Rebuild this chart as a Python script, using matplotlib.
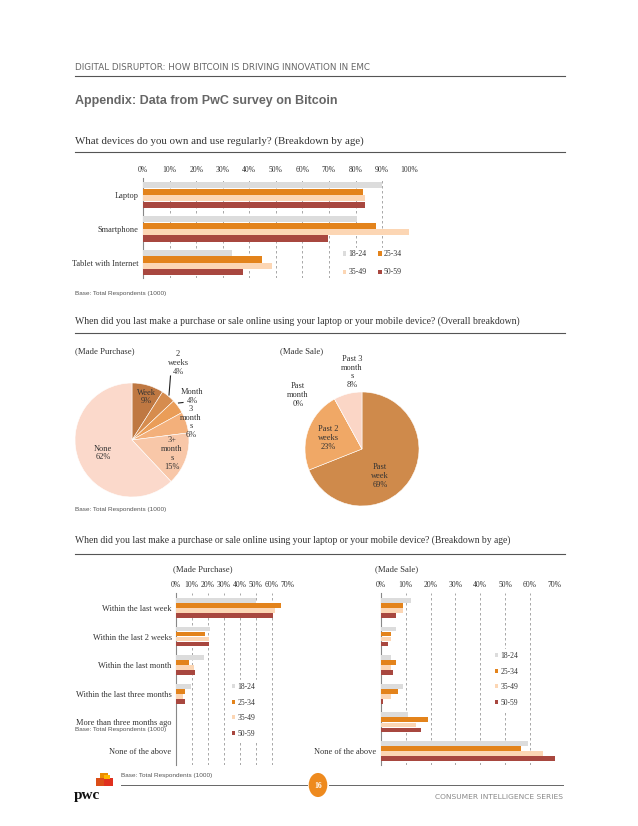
import numpy as np
import matplotlib
matplotlib.use('Agg')
import matplotlib.pyplot as plt
from matplotlib.patches import Rectangle, Circle
from matplotlib.lines import Line2D

# ---------------- data ----------------
age_groups = ['18-24', '25-34', '35-49', '50-59']
age_colors = ['#DCDCDC', '#E3831B', '#FCD6B4', '#A8473F']

devices = ['Laptop', 'Smartphone', 'Tablet with Internet']
dev_18_24 = [90.0, 80.5, 33.6]
dev_25_34 = [82.7, 87.7, 44.9]
dev_35_49 = [83.5, 100.0, 48.6]
dev_50_59 = [83.7, 69.7, 37.7]
dev_ticks = [0, 10, 20, 30, 40, 50, 60, 70, 80, 90, 100]

purchase_labels = ['Week\n9%', '2\nweeks\n4%', 'Month\n4%', '3\nmonth\ns\n6%', '3+\nmonth\ns\n15%', 'None\n62%']
purchase_share = [9, 4, 4, 6, 15, 62]
purchase_colors = ['#BF7842', '#D68C4E', '#EA9D58', '#F3B07B', '#F8C7A8', '#FBD9CB']

sale_labels = ['Past\nweek\n69%', 'Past 2\nweeks\n23%', 'Past\nmonth\n0%', 'Past 3\nmonth\ns\n8%']
sale_share = [69, 23, 0, 8]
sale_colors = ['#CF8A4B', '#F0A866', '#F5BE90', '#FBD6C6']

timing = ['Within the last week', 'Within the last 2 weeks', 'Within the last month',
          'Within the last three months', 'More than three months ago', 'None of the above']
buy_18_24 = [50.0, 21.7, 17.9, 9.4, 0, 0]
buy_25_34 = [65.8, 18.5, 8.3, 5.6, 0, 0]
buy_35_49 = [61.8, 20.6, 11.5, 4.4, 0, 0]
buy_50_59 = [61.0, 20.8, 11.9, 5.6, 0, 0]
sell_18_24 = [12.0, 6.2, 4.1, 9.1, 11.0, 59.0]
sell_25_34 = [9.1, 4.1, 6.2, 7.1, 19.1, 56.2]
sell_35_49 = [9.1, 4.1, 4.1, 4.1, 14.3, 65.1]
sell_50_59 = [6.2, 3.1, 5.1, 1.1, 16.1, 70.0]
time_ticks = [0, 10, 20, 30, 40, 50, 60, 70]

# ---------------- figure helpers ----------------
W, H = 638, 826
fig = plt.figure(figsize=(W / 100, H / 100), dpi=100)
fig.patch.set_facecolor('white')

SERIF = ['Liberation Serif', 'DejaVu Serif']
SANS = ['Liberation Sans', 'DejaVu Sans']
WIDE = ['DejaVu Sans']
TXT = '#333333'


def fx(x):
    return x / W


def fy(y):
    return 1 - y / H


def text(x, y, s, **kw):
    kw.setdefault('va', 'center')
    return fig.text(fx(x), fy(y), s, **kw)


def hline(x0, x1, y, color='#555555', lw=0.8):
    fig.add_artist(Line2D([fx(x0), fx(x1)], [fy(y), fy(y)], transform=fig.transFigure,
                          color=color, lw=lw))


def add_ax(l, t, r, b):
    return fig.add_axes([fx(l), fy(b), (r - l) / W, (b - t) / H])


def bar_chart(ax, cats, series, ticks, step, bh, ylim, fs, show_labels=True):
    y = np.arange(len(cats))
    handles = []
    for i, (vals, c) in enumerate(zip(series, age_colors)):
        h = ax.barh(y + (i - 1.5) * step, vals, height=bh, color=c, label=age_groups[i],
                    zorder=3, linewidth=0)
        handles.append(h)
    ax.set_xlim(ticks[0], ticks[-1])
    ax.set_ylim(*ylim)
    ax.xaxis.tick_top()
    ax.set_xticks(ticks)
    ax.set_xticklabels([f'{t}%' for t in ticks], family=SERIF, fontsize=fs, color=TXT)
    ax.tick_params(axis='x', length=0, pad=3)
    ax.set_yticks(y)
    ax.set_yticklabels(cats if show_labels else [''] * len(cats), family=SERIF,
                       fontsize=fs + 0.5, color=TXT)
    ax.tick_params(axis='y', length=0, pad=3)
    ax.grid(axis='x', linestyle=(0, (3, 3)), color='#999999', lw=0.6, zorder=0)
    ax.set_axisbelow(True)
    for s in ['top', 'right', 'bottom']:
        ax.spines[s].set_visible(False)
    ax.spines['left'].set_color('#888888')
    ax.spines['left'].set_linewidth(0.8)
    return handles


# ---------------- header ----------------
text(75, 67, 'DIGITAL DISRUPTOR: HOW BITCOIN IS DRIVING INNOVATION IN EMC',
     family=WIDE, fontsize=6.3, color='#666666')
hline(75, 565, 76)
text(75, 101, 'Appendix: Data from PwC survey on Bitcoin', family=SANS, fontsize=9.0,
     fontweight='bold', color='#666666')

# ---------------- chart 1 ----------------
text(75, 141, 'What devices do you own and use regularly? (Breakdown by age)',
     family=SERIF, fontsize=7.8, color=TXT)
hline(75, 565, 152)

ax1 = add_ax(143, 178, 408.7, 278)
h1 = bar_chart(ax1, devices, [dev_18_24, dev_25_34, dev_35_49, dev_50_59], dev_ticks,
               step=0.19, bh=0.18, ylim=(2.45, -0.5), fs=5.5)
leg1 = ax1.legend([h1[0], h1[2], h1[1], h1[3]],
                  [age_groups[0], age_groups[2], age_groups[1], age_groups[3]],
                  ncol=2, loc='lower right', bbox_to_anchor=(1.0, -0.05), frameon=True,
                  fancybox=False, edgecolor='white', facecolor='white', framealpha=1,
                  handlelength=0.45, handleheight=0.45, handletextpad=0.3,
                  columnspacing=1.5, labelspacing=1.3, borderpad=0.35,
                  prop={'family': SERIF, 'size': 5.6})
for t in leg1.get_texts():
    t.set_color(TXT)

text(75, 294, 'Base: Total Respondents (1000)', family=SANS, fontsize=4.6, color='#555555')

# ---------------- pies ----------------
text(75, 321, 'When did you last make a purchase or sale online using your laptop or your '
     'mobile device? (Overall breakdown)', family=SERIF, fontsize=7.05, color=TXT)
hline(75, 565, 333)

text(75, 351, '(Made Purchase)', family=SERIF, fontsize=6.3, color=TXT)
text(280, 351, '(Made Sale)', family=SERIF, fontsize=6.3, color=TXT)

axp1 = add_ax(75, 383, 189, 497)
axp1.pie(purchase_share, colors=purchase_colors, startangle=90, counterclock=False,
         wedgeprops={'edgecolor': 'white', 'linewidth': 0.4})
axp1.set_xlim(-1, 1)
axp1.set_ylim(-1, 1)
axp1.set_aspect('equal')
axp1.axis('off')

pl_pos = [(146, 397), (178, 363), (192, 396.5), (191, 422), (172, 453.5), (103, 453)]
for lab, (x, y) in zip(purchase_labels, pl_pos):
    text(x, y, lab, family=SERIF, fontsize=6.0, color=TXT, ha='center', linespacing=1.15)
fig.add_artist(Line2D([fx(170.5), fx(169)], [fy(376), fy(395)], transform=fig.transFigure,
                      color='#222222', lw=0.8))
fig.add_artist(Line2D([fx(178.5), fx(183)], [fy(403), fy(402.5)], transform=fig.transFigure,
                      color='#222222', lw=0.8))

axp2 = add_ax(305, 392, 419, 506)
axp2.pie(sale_share, colors=sale_colors, startangle=90, counterclock=False,
         wedgeprops={'edgecolor': 'white', 'linewidth': 0.4})
axp2.set_xlim(-1, 1)
axp2.set_ylim(-1, 1)
axp2.set_aspect('equal')
axp2.axis('off')

sl_pos = [(380, 476), (328, 438), (298, 395), (352, 372)]
for lab, (x, y) in zip(sale_labels, sl_pos):
    text(x, y, lab, family=SERIF, fontsize=6.0, color=TXT, ha='center', linespacing=1.15)

text(75, 509, 'Base: Total Respondents (1000)', family=SANS, fontsize=4.6, color='#555555')

# ---------------- charts 3 & 4 ----------------
text(75, 540, 'When did you last make a purchase or sale online using your laptop or your '
     'mobile device? (Breakdown by age)', family=SERIF, fontsize=6.95, color=TXT)
hline(75, 565, 554)

text(203, 569, '(Made Purchase)', family=SERIF, fontsize=6.3, color=TXT, ha='center')
text(397, 569, '(Made Sale)', family=SERIF, fontsize=6.3, color=TXT, ha='center')

ax3 = add_ax(175.7, 593, 287.7, 765)
h3 = bar_chart(ax3, timing, [buy_18_24, buy_25_34, buy_35_49, buy_50_59], time_ticks,
               step=0.175, bh=0.165, ylim=(5.49, -0.52), fs=5.5)
leg3 = ax3.legend(h3, age_groups, loc='upper left', bbox_to_anchor=(fx(225), fy(676)),
                  bbox_transform=fig.transFigure, frameon=True, fancybox=False,
                  edgecolor='white', facecolor='white', framealpha=1,
                  handlelength=0.45, handleheight=0.45, handletextpad=0.3,
                  labelspacing=1.0, borderpad=0.4, prop={'family': SERIF, 'size': 5.5})
for t in leg3.get_texts():
    t.set_color(TXT)

ax4 = add_ax(380.7, 593, 555, 765)
h4 = bar_chart(ax4, timing, [sell_18_24, sell_25_34, sell_35_49, sell_50_59], time_ticks,
               step=0.175, bh=0.165, ylim=(5.49, -0.52), fs=5.5, show_labels=False)
ax4.set_yticklabels(['', '', '', '', '', timing[-1]], family=SERIF, fontsize=6.0, color=TXT)
leg4 = ax4.legend(h4, age_groups, loc='upper left', bbox_to_anchor=(fx(488), fy(645)),
                  bbox_transform=fig.transFigure, frameon=True, fancybox=False,
                  edgecolor='white', facecolor='white', framealpha=1,
                  handlelength=0.45, handleheight=0.45, handletextpad=0.3,
                  labelspacing=1.0, borderpad=0.4, prop={'family': SERIF, 'size': 5.5})
for t in leg4.get_texts():
    t.set_color(TXT)

text(75, 729, 'Base: Total Respondents (1000)', family=SANS, fontsize=4.6, color='#555555')

# ---------------- footer ----------------
text(121, 775, 'Base: Total Respondents (1000)', family=SANS, fontsize=4.6, color='#555555')
hline(121, 307, 785, color='#666666', lw=0.7)
hline(329, 563, 785, color='#666666', lw=0.7)
fig.add_artist(Circle((fx(318), fy(785)), 9.3 / W, transform=fig.transFigure,
                      facecolor='#EE8A1E', edgecolor='none'))
text(318, 785.5, '16', family=SERIF, fontsize=5.5, color='white', ha='center',
     fontweight='bold')
text(563, 797, 'CONSUMER INTELLIGENCE SERIES', family=WIDE, fontsize=5.4,
     color='#888888', ha='right')

# pwc logo
for (x0, y0, w, h, c) in [(100, 773, 8, 7, '#EB8C00'), (96, 778, 10, 8, '#DB4E18'),
                          (104, 778, 9, 8, '#E0301E'), (104, 775, 6, 4, '#FFB600')]:
    fig.add_artist(Rectangle((fx(x0), fy(y0 + h)), w / W, h / H, transform=fig.transFigure,
                             facecolor=c, edgecolor='none'))
text(74, 795, 'pwc', family=SERIF, fontsize=11, fontweight='bold', color='#111111')

fig.savefig('out.png', dpi=100, facecolor='white')
